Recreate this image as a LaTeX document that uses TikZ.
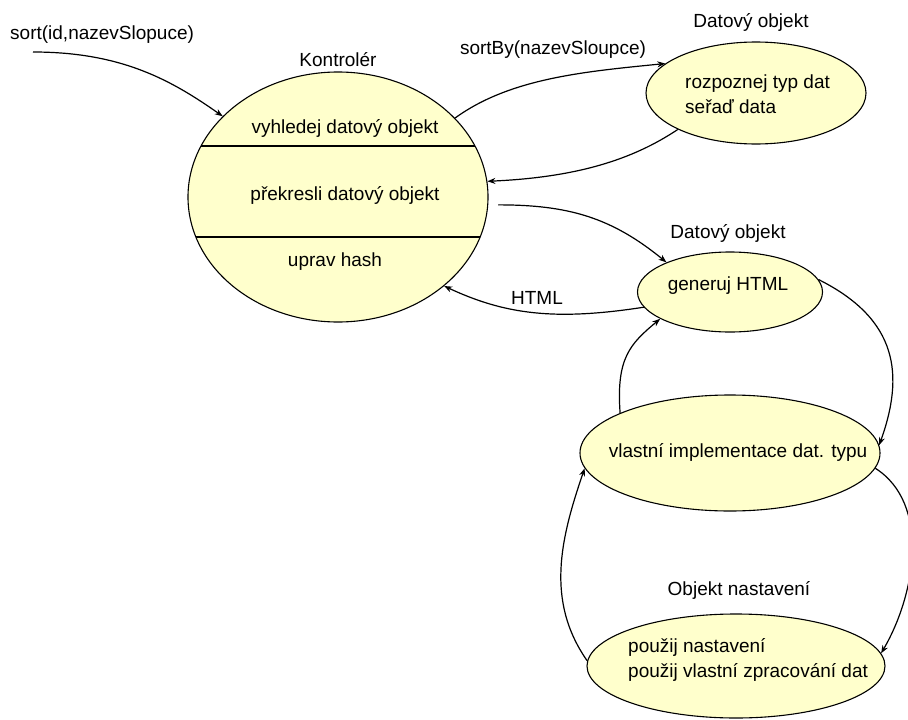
\documentclass[tikz,border=0pt]{standalone}
\usepackage{fontspec}
\setmainfont{Liberation Sans}
\usetikzlibrary{shapes.geometric,arrows.meta}
\definecolor{procfill}{RGB}{255,255,204}
\begin{document}
\begin{tikzpicture}[x=1pt,y=-1pt,
  proc/.style={ellipse, draw, line width=1.1pt, fill=procfill, inner sep=0pt},
  lbl/.style={font=\fontsize{19}{24.5}\selectfont, inner sep=0pt},
  flow/.style={line width=1.2pt, -{Stealth[length=8pt,width=6pt]}}]
\useasboundingbox (0,0) rectangle (908,720);

% controller process with its three steps
\node[proc, minimum width=300pt, minimum height=250pt] (K) at (338,197) {};
\begin{scope}
  \clip (338,197) ellipse [x radius=150, y radius=125];
  \draw[line width=1.1pt] (150,146) -- (520,146);
  \draw[line width=1.1pt] (150,237) -- (520,237);
\end{scope}
\node[lbl] (kt) at (338,60) {Kontrolér};
\node[lbl] (k1) at (345,128) {vyhledej datový objekt};
\node[lbl] (k2) at (345,195) {překresli datový objekt};
\node[lbl] (k3) at (335,262) {uprav hash};

% incoming call
\node[lbl, anchor=west] (sortlbl) at (10,35) {sort(id,nazevSlopuce)};
\coordinate (src) at (33,52);

% data object: sorting
\node[proc, minimum width=220pt, minimum height=102pt] (D) at (756,93) {};
\node[lbl] (dh) at (751,22) {Datový objekt};
\node[lbl, align=left, anchor=west] (dt) at (685,94) {rozpoznej typ dat\\seřaď data};
\node[lbl] (sb) at (553,50) {sortBy(nazevSloupce)};

% data object: HTML generation
\node[proc, minimum width=185pt, minimum height=80pt] (G) at (730,292) {};
\node[lbl] (gh) at (728,233) {Datový objekt};
\node[lbl] (gt) at (728,286) {generuj HTML};
\node[lbl] (html) at (537,298) {HTML};

% own data type implementation
\node[proc, minimum width=300pt, minimum height=116pt] (V) at (730,453) {};
\node[lbl] (vt) at (738,452) {vlastní implementace dat. typu};

% settings object
\node[proc, minimum width=298pt, minimum height=104pt] (O) at (736,666) {};
\node[lbl] (oh) at (739,590) {Objekt nastavení};
\node[lbl, align=left, anchor=west] (ot) at (628,660) {použij nastavení\\použij vlastní zpracování dat};

% message flow
\draw[flow] (src) .. controls +(90,0) and +(-50,-35) .. (K.145);
\draw[flow] (K.34) .. controls +(55,-40) and +(-80,8) .. (D.162);
\draw[flow] (D.205) .. controls +(-45,30) and +(90,-4) .. (K.6);
\draw[flow] ([xshift=10pt]K.-3) .. controls +(70,0) and +(-55,-45) .. (G.155);
\draw[flow] (G.190) .. controls +(-90,14) and +(60,28) .. (K.-40);
\draw[flow] (V.160) .. controls +(-4,-55) and +(-30,25) .. (G.201);
\draw[flow] (G.8) .. controls +(80,40) and +(25,-70) .. (V.3);
\draw[flow] (V.-6) .. controls +(55,35) and +(35,-60) .. (O.5);
\draw[flow] (O.178) .. controls +(-42,-60) and +(-24,70) .. (V.186);
\end{tikzpicture}
\end{document}
